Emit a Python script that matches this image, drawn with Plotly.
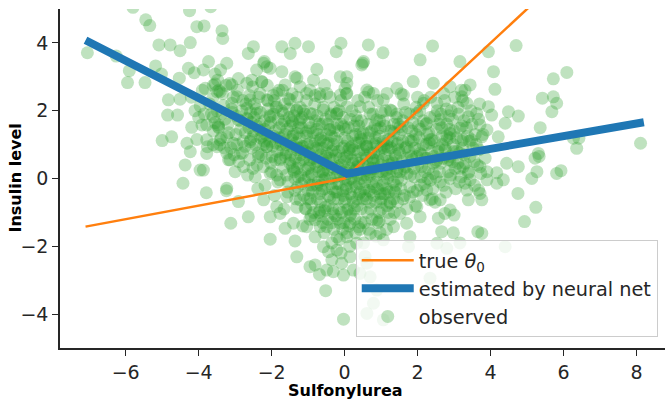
import plotly.graph_objects as go

# ---- lines ----
theta_x = [-7.1, 0.0, 8.2]
theta_y = [-1.42, 0.0, 8.2]
est_x = [-7.1, 0.06, 8.2]
est_y = [4.08, 0.14, 1.66]

# ---- observed points, read region by region ----
A_x = [-7.05,-6.26,-5.90,-5.95,-5.47,-5.80,-5.45,-5.34,-5.09,-4.78,-4.51,-4.23,-4.25,-3.67,-4.05,-3.85,-3.36,-3.34,-5.18,-5.02,-4.83,-4.51,-4.85,-4.58,-5.00,-4.74,-4.53,-4.28,-4.12,-3.87,-3.73,-3.55,-3.40,-3.82,-3.55,-3.50,-3.96,-4.19,-3.91,-4.32,-4.23,-3.76,-3.60,-4.37,-3.96,-4.43,-3.79,-3.46,-3.60,-3.36,-3.41,-3.23,-3.24,-3.60,-3.45,-4.05]
A_y = [3.71,3.61,3.18,2.83,2.83,5.05,4.68,4.51,3.94,3.94,3.77,4.01,4.95,5.07,4.48,4.50,4.36,4.13,3.32,3.08,2.32,2.34,1.87,1.87,1.12,1.23,2.96,3.25,3.12,3.20,3.45,3.08,3.20,2.66,2.79,2.56,2.14,1.51,1.58,1.04,0.79,0.94,1.00,0.40,0.25,-0.14,-0.42,1.58,1.82,1.92,1.14,0.75,-0.36,2.75,2.60,1.15]

B_x = [-3.23,-3.09,-3.41,-2.68,-2.22,-2.04,-1.72,-1.36,-0.76,-0.85,-1.22,-1.63,-1.86,-2.27,-2.54,-2.95,-3.09,-2.59,-2.32,-2.13,-1.86,-1.49,-1.04,-0.67,-0.49,-0.12,-0.12,0.01,-2.68,-2.41,-2.04,-1.68,-1.31,-0.95,-0.58,-0.21,0.06,-2.64,-2.50,-1.72,-1.36,-1.49,-0.99,-0.10,-0.23,-2.41,-2.13,-2.20,-1.31,0.06]
B_y = [3.40,2.76,2.56,2.81,3.40,3.25,3.15,3.00,3.22,2.90,2.71,2.76,2.51,2.86,2.90,2.41,2.22,2.32,2.51,2.32,2.12,2.32,2.51,2.41,2.51,2.46,3.00,2.66,2.07,1.92,1.82,1.92,2.02,1.92,2.02,1.92,2.12,3.69,3.89,3.89,3.99,3.69,3.89,3.99,3.74,3.20,3.30,3.45,2.96,2.81]

C_x = [-3.78,-3.46,-3.23,-3.78,-3.50,-3.78,-3.05,-2.86,-3.14,-2.77,-2.59,-2.32,-2.13,-2.36,-2.45,-2.04,-1.77,-1.68,-1.31,-1.13,-1.40,-0.95,-0.67,-0.40,-0.31,-0.03,-0.58,-1.77,-0.95,-3.87,-3.23,-2.68,-2.91]
C_y = [1.58,1.53,1.23,1.14,0.94,0.74,1.04,0.74,0.55,0.35,1.09,1.43,0.94,0.64,0.05,0.15,0.55,1.23,1.33,0.94,0.25,0.55,1.14,1.43,0.84,1.53,0.25,-0.04,-0.19,0.25,-0.29,1.78,1.73]

D1_x = [0.47,2.07,0.06,0.79,1.61,2.71,2.89,3.62,3.39,3.90,2.62,2.53,2.16,1.98,2.25,2.80,3.25,2.34,1.88,1.06,1.25,0.42,0.06,0.88,1.52,1.70,2.07,2.53,2.89,3.25,3.71,3.85,3.90,3.44,2.89,2.43,0.79,1.16,0.42,0.15,0.61]
D1_y = [3.35,3.50,3.00,2.51,2.46,2.51,2.71,1.92,1.82,1.43,1.73,2.22,2.22,1.92,1.63,1.14,1.14,1.14,1.14,2.32,2.02,2.12,2.51,1.73,1.53,0.94,0.74,0.55,0.55,0.35,0.35,0.60,-0.04,-0.04,0.00,0.15,0.55,1.04,1.33,0.74,0.94]

D2_x = [0.65,1.05,0.52,0.50,2.41,1.43,1.88,2.43,0.61,0.66,1.16]
D2_y = [3.94,3.71,3.45,3.40,3.91,2.66,2.86,2.81,2.61,2.55,2.51]

D3_x = [3.94,4.70,3.16,4.08,4.12,3.44,3.21,3.35,5.72,6.09,5.42,5.72,5.81,5.68,3.94,4.03,4.49,4.76,4.40,5.36,3.71,3.76,4.21,3.48,3.16,2.89,6.27,6.42,6.36,8.11,5.31,5.33,5.22,4.44,4.76,3.90,4.17,5.27,5.13,5.81,5.93,4.35,4.75,3.39,3.30,3.67]
D3_y = [3.74,3.92,3.45,3.15,2.63,2.76,2.41,2.22,2.94,3.13,2.37,2.41,2.22,1.97,2.12,1.87,1.97,1.84,1.63,1.50,1.58,1.23,1.23,1.14,1.48,1.33,1.19,1.19,0.89,1.04,0.74,0.65,0.60,0.45,0.35,0.20,0.17,0.20,0.00,0.15,0.23,-0.04,-0.44,0.15,-0.14,-0.34]

E_x = [5.24,4.93,3.65,3.76,4.40,3.39,3.76,3.00,3.16,2.66,2.98,3.71,2.89,2.62,2.75,2.53,2.25,2.34,1.70,1.79,1.34,1.06,0.70,0.38,0.33,0.88,1.25,1.98,1.79,1.52,3.35,4.17,1.06,0.61,0.79,0.88,0.70,0.42,0.61,1.75,2.34,2.80,2.07,2.57,0.97]
E_y = [-0.85,-1.27,-1.57,-1.62,-2.01,-0.63,-0.63,-1.08,-1.90,-1.57,-1.60,-0.44,-0.93,-0.63,-1.03,-1.91,-0.34,-0.63,-1.32,-1.72,-1.42,-1.81,-1.62,-1.42,-1.91,-1.22,-0.73,-0.83,-0.54,-1.03,-0.34,-0.14,-4.17,-3.98,-3.68,-3.29,-2.90,-2.80,-2.50,-2.01,-2.94,-2.06,-1.13,-1.17,-1.60]

F_x = [-2.91,-3.12,-2.64,-2.04,-2.22,-2.04,-1.77,-1.63,-1.40,-1.36,-1.31,-1.08,-0.95,-0.81,-0.69,-0.81,-0.58,-0.44,-0.21,-0.35,-0.49,-0.31,-0.03,-0.08,0.15,-0.52,-0.03,-1.04,-0.67,-0.81,-0.21,0.06,0.15,-0.12,-0.49,-0.31,0.06,-0.67,-0.95,-1.22,-1.58,-1.86,-1.31,0.24]
F_y = [-0.68,-1.32,-1.13,-1.79,-0.63,-1.13,-1.03,-1.47,-1.32,-1.84,-2.31,-0.88,-2.60,-2.55,-2.83,-1.72,-2.01,-2.16,-2.11,-2.40,-2.70,-2.75,-2.85,-2.50,-2.31,-3.31,-4.15,-1.42,-1.42,-1.22,-1.72,-1.72,-1.32,-1.32,-1.42,-1.03,-0.93,-0.93,-1.20,-0.63,-0.54,-0.83,-0.85,-2.70]

# dense core, estimated (x, y) pairs
core_left = [
    (-4.2,2.4),(-4.0,1.8),(-3.9,2.6),(-4.1,2.0),(-3.85,1.9),
    (-3.7,2.2),(-3.6,1.4),(-3.5,2.0),(-3.42,1.0),(-3.35,2.5),(-3.28,1.75),(-3.65,1.9),(-3.3,0.9),
    (-3.2,1.6),(-3.12,0.9),(-3.05,2.4),(-2.98,1.3),(-2.9,0.5),(-2.82,2.0),(-2.78,1.1),(-3.15,2.8),(-3.0,0.2),(-2.86,1.7),(-3.08,1.95),(-2.94,2.6),(-3.18,0.55),(-2.8,0.75),
    (-2.7,2.2),(-2.62,1.5),(-2.55,0.9),(-2.48,1.8),(-2.4,0.4),(-2.35,2.4),(-2.3,1.2),(-2.66,0.1),(-2.52,2.7),(-2.44,1.0),(-2.58,1.95),(-2.28,0.7),(-2.72,1.35),(-2.38,-0.3),(-2.6,0.55),(-2.33,1.6),(-2.5,1.4),(-2.42,2.05),
    (-2.2,1.7),(-2.15,0.6),(-2.1,2.3),(-2.05,1.1),(-2.0,0.2),(-1.95,1.9),(-1.9,1.4),(-1.85,0.8),(-1.8,2.6),(-2.18,-0.2),(-2.08,1.55),(-1.98,0.95),(-1.88,2.1),(-1.78,1.2),(-2.22,1.0),(-2.12,2.75),(-2.02,0.45),(-1.92,-0.5),(-1.82,1.75),(-2.16,1.3),(-1.96,2.45),(-1.86,0.1),(-2.06,1.85),(-1.76,0.6),
    (-1.72,1.6),(-1.68,0.3),(-1.64,2.2),(-1.6,1.0),(-1.56,-0.4),(-1.52,1.8),(-1.48,0.7),(-1.44,2.5),(-1.4,1.3),(-1.36,0.0),(-1.32,2.0),(-1.28,0.9),(-1.74,1.1),(-1.66,-0.9),(-1.58,1.45),(-1.5,0.45),(-1.42,1.65),(-1.34,-0.6),(-1.26,1.5),(-1.7,2.6),(-1.62,0.65),(-1.54,2.35),(-1.46,1.15),(-1.38,0.2),(-1.3,2.4),(-1.55,-0.1),(-1.45,0.95),
]
core_mid = [
    (-1.24,1.2),(-1.2,0.1),(-1.16,1.8),(-1.12,-0.5),(-1.08,0.8),(-1.04,2.3),(-1.0,1.4),(-0.96,0.4),(-0.92,-1.1),(-0.88,1.9),(-0.84,0.6),(-0.8,1.1),(-0.76,-0.2),(-1.22,2.1),(-1.14,0.55),(-1.06,-0.9),(-0.98,1.65),(-0.9,0.15),(-0.82,2.2),(-0.78,0.9),(-1.18,1.5),(-1.1,-0.05),(-1.02,1.0),(-0.94,-0.6),(-0.86,1.35),(-1.2,0.7),(-1.0,-0.35),(-0.8,1.7),(-0.95,2.6),(-1.15,-1.4),
    (-0.74,0.5),(-0.7,1.6),(-0.66,-0.7),(-0.62,0.9),(-0.58,2.1),(-0.54,0.0),(-0.5,1.3),(-0.46,-1.2),(-0.42,0.6),(-0.38,1.9),(-0.34,-0.3),(-0.3,1.0),(-0.26,0.3),(-0.72,-0.1),(-0.64,1.2),(-0.56,-1.6),(-0.48,0.75),(-0.4,2.4),(-0.32,-0.9),(-0.28,1.5),(-0.68,2.5),(-0.6,0.2),(-0.52,1.75),(-0.44,-0.5),(-0.36,1.25),(-0.7,-1.0),(-0.5,0.45),(-0.3,-1.5),(-0.45,1.05),(-0.62,-0.35),(-0.35,0.8),(-0.55,2.75),
    (-0.24,0.7),(-0.2,-0.4),(-0.16,1.4),(-0.12,0.1),(-0.08,-1.0),(-0.04,1.8),(0.0,0.5),(0.04,-0.2),(0.08,1.1),(0.12,-1.4),(0.16,0.3),(0.2,2.0),(0.24,-0.7),(-0.22,1.9),(-0.14,-1.8),(-0.06,0.9),(0.02,-0.6),(0.1,1.5),(0.18,0.0),(-0.18,0.35),(-0.1,2.3),(-0.02,-1.3),(0.06,0.65),(0.14,-2.0),(0.22,1.25),(-0.25,-1.1),(-0.05,0.2),(0.05,2.5),(0.15,-0.45),(0.25,0.85),(-0.15,-0.15),(0.0,1.2),(-0.1,-2.2),(0.1,-0.9),(0.2,0.55),
    (0.26,0.2),(0.3,1.3),(0.34,-0.6),(0.38,0.8),(0.42,-1.5),(0.46,1.7),(0.5,0.4),(0.54,-0.3),(0.58,1.0),(0.62,-1.0),(0.66,2.1),(0.7,0.1),(0.74,1.4),(0.28,-1.2),(0.36,2.3),(0.44,0.0),(0.52,-1.9),(0.6,0.6),(0.68,-0.7),(0.32,0.55),(0.4,-0.15),(0.48,1.15),(0.56,-2.3),(0.64,0.35),(0.72,-0.4),(0.3,1.85),(0.5,0.85),(0.7,1.9),(0.45,-0.9),(0.65,1.2),(0.35,0.1),(0.55,2.4),
]
core_right = [
    (0.76,0.6),(0.8,-0.5),(0.84,1.2),(0.88,0.1),(0.92,-1.3),(0.96,1.7),(1.0,0.4),(1.04,-0.2),(1.08,0.9),(1.12,2.0),(1.16,-0.8),(1.2,0.5),(1.24,1.4),(0.78,1.9),(0.86,-1.7),(0.94,0.75),(1.02,-0.9),(1.1,1.55),(1.18,0.0),(0.82,0.3),(0.9,2.3),(0.98,-0.45),(1.06,1.1),(1.14,0.25),(1.22,-0.4),(0.8,1.0),(1.0,1.95),(1.2,0.85),(0.95,-1.0),(1.15,-1.5),
    (1.26,0.3),(1.3,1.1),(1.34,-0.6),(1.38,0.7),(1.42,1.8),(1.46,0.0),(1.5,1.3),(1.54,-0.3),(1.58,0.5),(1.62,2.2),(1.66,0.9),(1.7,-0.9),(1.74,1.5),(1.28,2.0),(1.36,-1.0),(1.44,1.0),(1.52,0.2),(1.6,1.7),(1.68,0.35),(1.32,0.45),(1.4,-0.2),(1.48,0.85),(1.56,1.45),(1.64,-0.5),(1.72,0.6),(1.35,1.6),(1.55,2.5),(1.45,-0.7),
    (1.76,0.8),(1.8,0.1),(1.84,1.4),(1.88,-0.4),(1.92,0.9),(1.96,2.1),(2.0,0.4),(2.04,1.2),(2.08,-0.2),(2.12,0.7),(2.16,1.7),(2.2,0.2),(2.24,1.0),(1.78,1.9),(1.86,0.55),(1.94,-0.8),(2.02,1.55),(2.1,0.05),(2.18,2.3),(1.82,1.1),(1.9,0.3),(1.98,0.65),(2.06,2.0),(2.14,-0.5),(2.22,0.6),
    (2.26,1.3),(2.3,0.3),(2.34,1.8),(2.38,0.8),(2.42,-0.3),(2.46,1.1),(2.5,0.5),(2.54,2.0),(2.58,0.9),(2.62,-0.1),(2.66,1.5),(2.7,0.6),(2.74,2.3),(2.28,0.0),(2.36,2.4),(2.44,0.65),(2.52,1.45),(2.6,0.2),(2.68,1.0),(2.32,1.05),(2.48,-0.7),(2.64,1.9),
    (2.76,0.9),(2.8,1.6),(2.84,0.2),(2.88,1.2),(2.92,2.0),(2.96,0.5),(3.0,1.4),(3.04,-0.3),(3.08,0.8),(3.12,1.9),(3.16,0.3),(3.2,1.1),(3.24,2.3),(2.78,-0.4),(2.9,0.65),(3.02,2.4),(3.14,-0.1),(2.86,1.85),(2.98,1.0),(3.1,0.45),(3.22,1.55),
    (3.28,0.7),(3.34,1.5),(3.4,0.2),(3.46,2.0),(3.52,0.9),(3.58,1.3),(3.64,0.4),(3.7,2.2),(3.3,2.6),(3.42,1.1),(3.56,-0.2),(3.68,0.85),
]
# second, overlapping layer of the saturated core
core2_left = [
    (-3.62,2.35),(-3.55,1.65),(-3.48,2.9),(-3.38,1.2),(-3.32,2.15),(-3.25,2.75),(-3.17,1.35),(-3.1,2.05),(-3.03,0.7),(-2.97,1.85),(-2.91,2.95),(-2.85,1.45),(-2.79,2.3),(-2.73,0.95),(-2.67,1.75),(-2.61,2.45),(-2.57,1.15),(-2.51,0.3),(-2.47,2.2),(-2.41,1.55),(-2.37,0.75),(-2.31,1.95),(-2.27,2.85),(-2.23,0.35),(-2.19,1.45),(-2.13,0.95),(-2.09,2.05),(-2.03,1.65),(-1.99,0.65),(-1.93,2.3),(-1.89,1.05),(-1.83,-0.1),(-1.79,1.5),(-1.73,2.0),(-1.69,0.85),(-1.63,1.3),(-1.59,0.1),(-1.53,2.05),(-1.49,1.55),(-1.43,0.35),(-1.39,1.85),(-1.33,1.05),(-1.29,-0.25),(-3.45,1.5),(-2.95,1.0),(-2.55,1.65),(-2.25,1.25),(-1.95,1.25),(-1.65,1.7),(-1.35,0.6),
]
core2_mid = [
    (-1.25,0.45),(-1.21,1.75),(-1.17,0.95),(-1.13,2.0),(-1.09,0.25),(-1.05,1.25),(-1.01,-0.6),(-0.97,0.75),(-0.93,1.5),(-0.89,-0.2),(-0.85,0.95),(-0.81,2.45),(-0.77,0.35),(-0.73,1.3),(-0.69,-0.45),(-0.65,0.7),(-0.61,1.6),(-0.57,0.15),(-0.53,-0.85),(-0.49,1.0),(-0.45,0.25),(-0.41,1.45),(-0.37,-0.15),(-0.33,0.55),(-0.29,2.1),(-0.25,0.05),(-0.21,1.1),(-0.17,-0.6),(-0.13,0.6),(-0.09,1.6),(-0.05,-0.35),(-0.01,0.95),(0.03,0.25),(0.07,-1.6),(0.11,0.85),(0.15,1.75),(0.19,-0.25),(0.23,0.45),(0.27,-0.9),(0.31,1.05),(0.35,0.35),(0.39,1.55),(0.43,-0.4),(0.47,0.6),(0.51,1.35),(0.55,-0.1),(0.59,0.25),(0.63,1.6),(0.67,-0.35),(0.71,0.75),(0.75,-1.2),(0.79,0.45),(0.83,1.55),(0.87,-0.1),(0.91,0.55),(0.95,1.25),(0.99,-0.7),(1.03,0.2),(1.07,1.7),(1.11,0.7),(1.15,-0.3),(1.19,1.15),(1.23,0.1),(1.27,0.9),
    (-1.0,0.05),(-0.75,1.85),(-0.6,-1.3),(-0.4,0.0),(-0.2,1.6),(0.0,-0.7),(0.2,0.95),(0.4,1.05),(0.6,-0.6),(0.8,0.75),(1.0,0.9),(1.2,-1.0),(-0.85,-1.0),(-0.15,2.0),(0.3,-1.6),(0.9,1.45),(-0.35,-1.9),(0.55,-1.3),
]
core2_right = [
    (1.31,0.5),(1.35,1.35),(1.39,-0.4),(1.43,0.2),(1.47,1.6),(1.51,0.75),(1.55,-0.05),(1.59,1.1),(1.63,0.3),(1.67,1.95),(1.71,0.15),(1.75,1.15),(1.79,-0.25),(1.83,0.65),(1.87,1.65),(1.91,0.05),(1.95,1.3),(1.99,-0.35),(2.03,0.85),(2.07,1.45),(2.11,0.35),(2.15,1.0),(2.19,-0.15),(2.23,1.6),(2.27,0.6),(2.31,1.35),(2.35,-0.05),(2.39,1.15),(2.43,0.45),(2.47,1.85),(2.51,0.05),(2.55,0.8),(2.59,1.6),(2.63,0.45),(2.67,1.25),(2.71,-0.2),(2.75,0.85),(2.79,2.05),(2.83,0.55),(2.87,1.45),(2.91,0.1),(2.95,1.75),(2.99,0.8),(3.03,0.3),(3.07,1.2),(3.11,2.1),(3.15,0.75),(3.19,0.05),(3.23,0.9),(3.27,1.7),(3.31,0.45),(3.37,1.25),(3.43,0.65),(3.49,1.6),(3.55,0.5),(3.61,1.0),(3.67,1.75),(3.73,0.15),(3.79,1.3),(1.6,-0.6),(2.0,2.4),(2.4,-0.6),(2.8,1.25),(3.2,2.6),
]
# third layer: the darkest centre of the cloud
core3_centre = [
    (-1.48,0.55),(-1.42,1.25),(-1.36,-0.35),(-1.3,0.85),(-1.24,1.65),(-1.18,-0.15),(-1.12,0.6),(-1.06,1.35),(-1.0,0.3),(-0.94,1.05),(-0.88,-0.4),(-0.82,0.45),(-0.76,1.45),(-0.7,0.2),(-0.64,-0.2),(-0.58,1.1),(-0.52,0.65),(-0.46,1.6),(-0.4,-0.55),(-0.34,0.35),(-0.28,1.2),(-0.22,-0.15),(-0.16,0.8),(-0.1,0.4),(-0.04,-0.5),(0.02,1.45),(0.08,0.15),(0.14,0.9),(0.2,-0.55),(0.26,1.55),(0.32,-0.25),(0.38,0.45),(0.44,1.2),(0.5,-0.6),(0.56,0.7),(0.62,0.05),(0.68,1.35),(0.74,0.3),(0.8,-0.25),(0.86,1.05),(0.92,0.2),(0.98,1.5),(1.04,0.55),(1.1,-0.45),(1.16,0.95),(1.22,0.4),(1.28,1.4),(1.34,-0.1),(1.4,0.65),(1.46,1.05),
    (-1.45,1.7),(-1.27,0.05),(-1.09,1.9),(-0.91,-0.75),(-0.73,0.85),(-0.55,-0.95),(-0.37,1.85),(-0.19,-1.2),(-0.01,0.6),(0.17,-1.05),(0.35,1.7),(0.53,0.1),(0.71,-0.9),(0.89,0.95),(1.07,-0.1),(1.25,-0.7),(1.43,1.9),(-0.6,0.55),(0.6,0.95),(0.0,0.0),
]
# fourth layer: saturated band just below the kink and along the left arm
core4_lower = [
    (-0.75,-0.6),(-0.65,-1.1),(-0.55,-0.3),(-0.45,-0.8),(-0.35,-1.3),(-0.25,-0.4),(-0.15,-0.9),(-0.05,-1.5),(0.05,-0.3),(0.15,-1.1),(0.25,-0.1),(0.35,-0.8),(0.45,-1.3),(0.55,-0.5),(0.65,-1.5),(0.75,-0.15),(0.85,-0.7),(0.95,-1.25),(1.05,-0.45),(1.15,0.15),(1.25,-1.2),(1.35,-0.35),(1.45,0.3),(-0.6,-0.05),(-0.2,0.1),(0.1,-0.05),(0.4,-0.45),(0.7,0.2),(1.0,-0.6),(-0.9,0.1),(-0.3,-0.6),(0.3,0.25),(0.9,-0.3),(-1.3,0.3),(-1.6,0.75),(-1.9,0.55),(-2.2,1.1),(-1.75,1.0),(-1.2,0.9),(-2.5,1.25),
]

x_ticks = [-6, -4, -2, 0, 2, 4, 6, 8]
y_ticks = [-4, -2, 0, 2, 4]

groups = [(A_x, A_y), (B_x, B_y), (C_x, C_y), (D1_x, D1_y), (D2_x, D2_y),
          (D3_x, D3_y), (E_x, E_y), (F_x, F_y)]
obs_x, obs_y = [], []
for gx, gy in groups:
    assert len(gx) == len(gy)
    obs_x += gx
    obs_y += gy
for core in (core_left, core_mid, core_right, core2_left, core2_mid, core2_right,
             core3_centre, core4_lower):
    obs_x += [p[0] for p in core]
    obs_y += [p[1] for p in core]

INK = "#262626"
W, H = 665, 399
ML, MR, MT, MB = 60, 0, 9, 51

fig = go.Figure()
fig.add_trace(go.Scatter(
    x=obs_x, y=obs_y, mode="markers", name="observed", legendrank=3,
    marker=dict(color="#2ca02c", size=13, opacity=0.3, line=dict(width=0)),
    hoverinfo="skip"))
fig.add_trace(go.Scatter(
    x=theta_x, y=theta_y, mode="lines", name="true <i>θ</i><sub>0</sub>", legendrank=1,
    line=dict(color="#ff7f0e", width=2.5)))
fig.add_trace(go.Scatter(
    x=est_x, y=est_y, mode="lines", name="estimated by neural net", legendrank=2,
    line=dict(color="#1f77b4", width=8)))

axis_common = dict(
    showgrid=False, zeroline=False, showline=True, linecolor=INK, linewidth=1.5,
    ticks="outside", ticklen=6, tickwidth=1.3, tickcolor=INK,
    tickfont=dict(family="DejaVu Sans", size=19, color=INK), mirror=False)

fig.update_layout(
    width=W, height=H,
    margin=dict(l=ML, r=MR, t=MT, b=MB, pad=0),
    paper_bgcolor="white", plot_bgcolor="white",
    font=dict(family="DejaVu Sans", color=INK),
    xaxis=dict(range=[-7.8, 8.78], tickvals=x_ticks, **axis_common),
    yaxis=dict(range=[-5, 5], tickvals=y_ticks, **axis_common),
    legend=dict(x=0.988, xanchor="right", y=0.032, yanchor="bottom",
                bgcolor="rgba(255,255,255,0.8)", bordercolor="#cccccc", borderwidth=1,
                font=dict(family="DejaVu Sans", size=19.3, color=INK),
                itemwidth=52, tracegroupgap=0),
    annotations=[
        dict(text="<b>Sulfonylurea</b>", xref="paper", yref="paper",
             x=(345.5 - ML) / (W - ML - MR), y=-0.125, xanchor="center", yanchor="middle",
             showarrow=False, font=dict(family="DejaVu Sans", size=16, color="black")),
        dict(text="<b>Insulin level</b>", xref="paper", yref="paper",
             x=(15 - ML) / (W - ML - MR), y=0.5, xanchor="center", yanchor="middle",
             textangle=-90, showarrow=False,
             font=dict(family="DejaVu Sans", size=16, color="black")),
    ],
)

fig.write_html("out.html")
